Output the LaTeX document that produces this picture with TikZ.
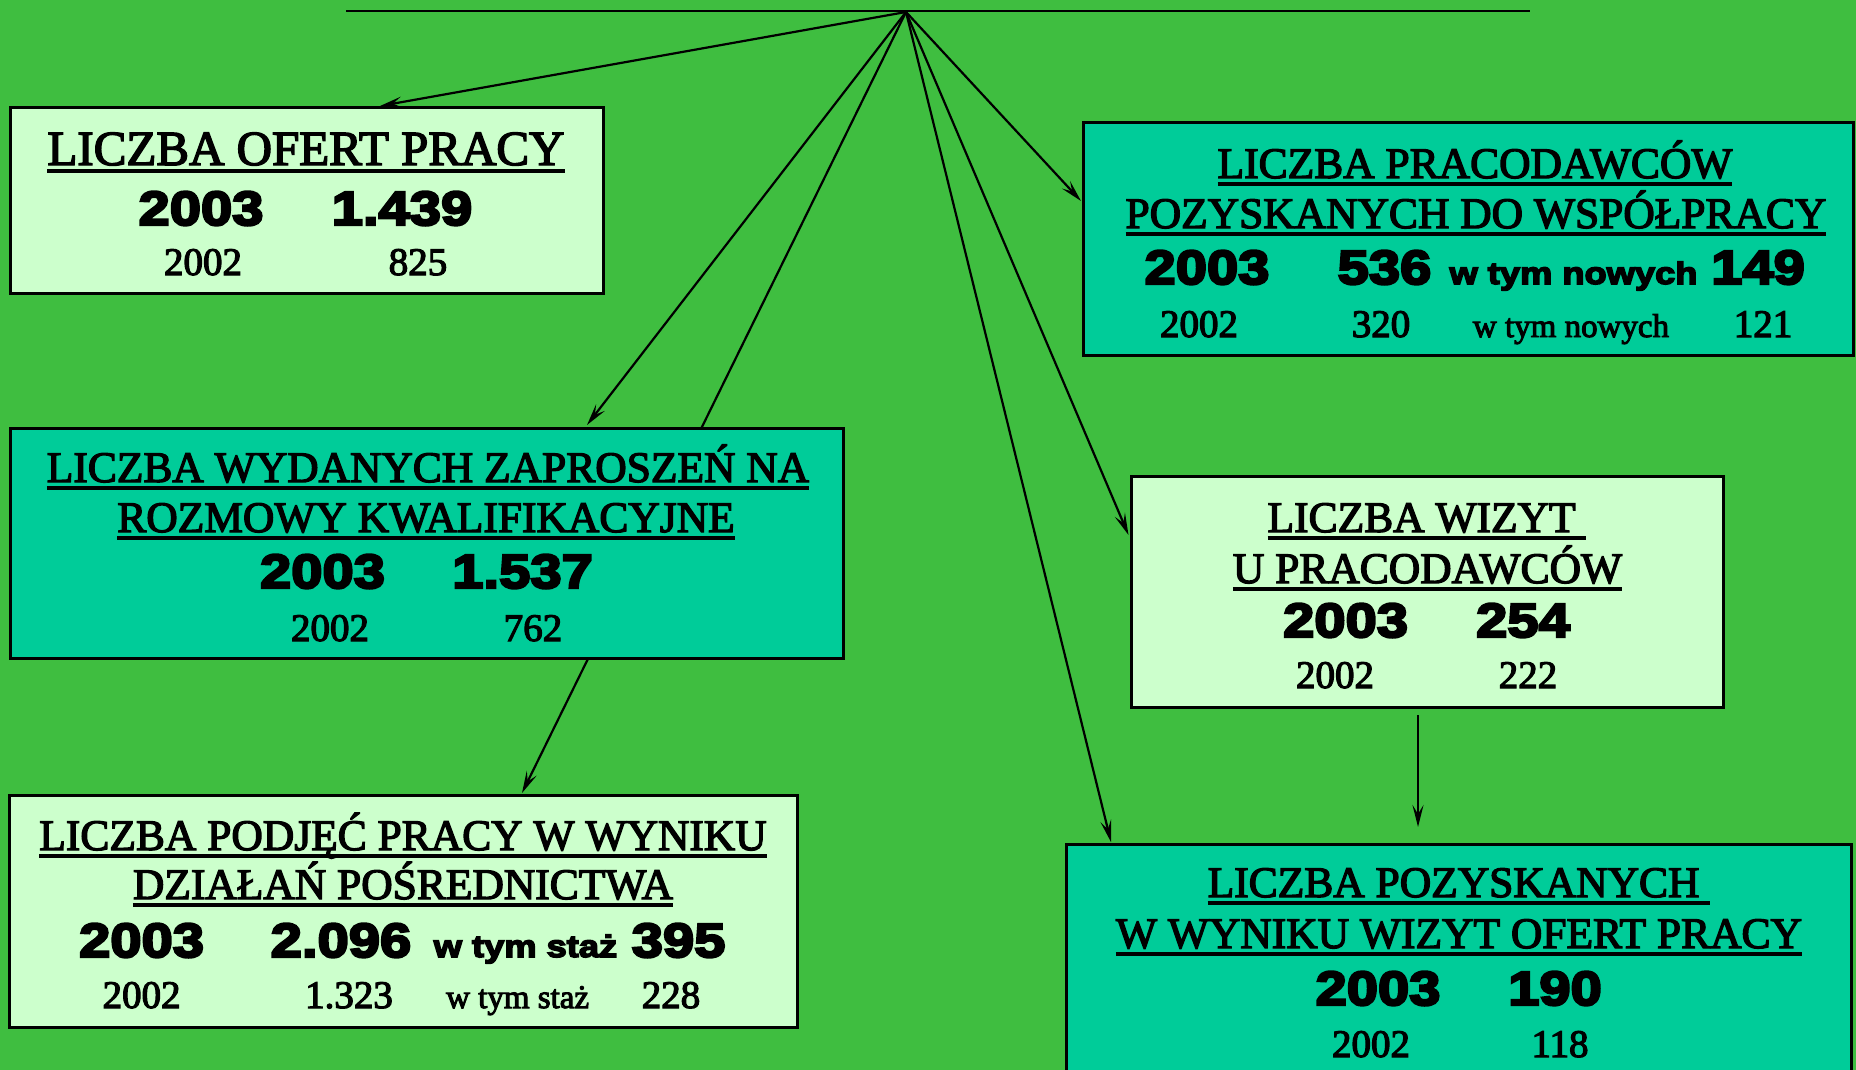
\documentclass[tikz,border=0pt]{standalone}
\usepackage{fontspec}
\setmainfont{Liberation Serif}
\font\ttlA="Liberation Serif:embolden=3" at 43.5pt
\font\ttlB="Liberation Serif:embolden=3" at 49pt
\font\smA="Liberation Serif:embolden=3" at 39pt
\font\smB="Liberation Serif:embolden=3" at 33pt
\font\bigA="Liberation Sans/B:extend=1.17;embolden=5" at 48pt
\font\midA="Liberation Sans/B:extend=1.17;embolden=5" at 31pt
\usetikzlibrary{arrows.meta}
\pgfdeclarelayer{backlayer}
\pgfsetlayers{backlayer,main}
\definecolor{bggreen}{RGB}{63,190,64}
\definecolor{lightg}{RGB}{204,255,204}
\definecolor{tealg}{RGB}{0,204,153}
\newcommand\myul[1]{\setbox0\hbox{#1}\rlap{\rule[-7.8pt]{\wd0}{3.4pt}}\box0}
\begin{document}
\begin{tikzpicture}[x=1pt,y=-1pt,
  lbox/.style={draw=black, line width=3pt, fill=lightg, anchor=north west, inner sep=0pt, outer sep=0pt},
  tbox/.style={lbox, fill=tealg},
  tx/.style={anchor=base, inner sep=0pt, outer sep=0pt, text=black},
  ttl/.style={tx, font=\ttlA},
  big/.style={tx, font=\bigA},
  midb/.style={tx, font=\midA},
  sm/.style={tx, font=\smA},
  smw/.style={tx, font=\smB},
  arr/.style={line width=2.2pt, -{Stealth[length=22pt,width=11pt,inset=9pt]}}
]
\clip (0,0) rectangle (1856,1070);
\useasboundingbox (0,0) rectangle (1856,1070);

% boxes
\node[lbox, minimum width=593pt, minimum height=185pt] (b1) at (10,108) {};
\node[tbox, minimum width=770pt, minimum height=232pt] (b2) at (1083,123) {};
\node[tbox, minimum width=833pt, minimum height=230pt] (b3) at (10,428) {};
\node[lbox, minimum width=788pt, minimum height=232pt] (b4) at (9,795) {};
\node[lbox, minimum width=592pt, minimum height=231pt] (b5) at (1131,476) {};
\node[tbox, minimum width=785pt, minimum height=260pt] (b6) at (1066,844) {};

% top line and hub
\coordinate (tl) at (346,11);
\coordinate (tr) at (1530,11);
\coordinate (hub) at (906,12);
\draw[line width=2.6pt] (tl) -- (tr);

% background + hidden arrow
\begin{pgfonlayer}{backlayer}
\fill[bggreen] (0,0) rectangle (1856,1070);
\draw[arr] (hub) -- ([xshift=513pt,yshift=2pt]b4.north west);
\end{pgfonlayer}

% arrows
\draw[arr] (hub) -- ([xshift=370pt,yshift=2pt]b1.north west);
\draw[arr] (hub) -- ([xshift=577pt,yshift=3pt]b3.north west);
\draw[arr] (hub) -- ([xshift=-2pt,yshift=-78pt]b2.north west);
\draw[arr] (hub) -- ([xshift=-2.5pt,yshift=-59pt]b5.north west);
\draw[arr] (hub) -- ([xshift=45pt,yshift=2pt]b6.north west);
\draw[arr] ([xshift=287pt,yshift=-8pt]b5.south west) -- ([xshift=352pt,yshift=17pt]b6.north west);

% box 1
\node[ttl, font=\ttlB] (t1a) at (306,165) {\myul{LICZBA OFERT PRACY}};
\node[big] (t1b) at (201,225) {2003};
\node[big] (t1c) at (402,225) {1.439};
\node[sm] (t1d) at (203,275) {2002};
\node[sm] (t1e) at (418,275) {825};

% box 2
\node[ttl] (t2a) at (1475,178) {\myul{LICZBA PRACODAWCÓW}};
\node[ttl] (t2b) at (1476,228) {\myul{POZYSKANYCH DO WSPÓŁPRACY}};
\node[big] (t2c) at (1207,284) {2003};
\node[big] (t2d) at (1384.5,284) {536};
\node[midb] (t2e) at (1573.5,284) {w tym nowych};
\node[big] (t2f) at (1758,284) {149};
\node[sm] (t2g) at (1199,337) {2002};
\node[sm] (t2h) at (1381,337) {320};
\node[smw] (t2i) at (1571,337) {w tym nowych};
\node[sm] (t2j) at (1763,337) {121};

% box 3
\node[ttl] (t3a) at (428,482) {\myul{LICZBA WYDANYCH ZAPROSZEŃ NA}};
\node[ttl] (t3b) at (426,532) {\myul{ROZMOWY KWALIFIKACYJNE}};
\node[big] (t3c) at (322.5,588) {2003};
\node[big] (t3d) at (522.6,588) {1.537};
\node[sm] (t3e) at (330,641) {2002};
\node[sm] (t3f) at (533,641) {762};

% box 4
\node[ttl] (t4a) at (403,850) {\myul{LICZBA PODJĘĆ PRACY W WYNIKU}};
\node[ttl] (t4b) at (403,899) {\myul{DZIAŁAŃ POŚREDNICTWA}};
\node[big] (t4c) at (141.6,957) {2003};
\node[big] (t4d) at (341,957) {2.096};
\node[midb] (t4e) at (525.5,957) {w tym staż};
\node[big] (t4f) at (678.6,957) {395};
\node[sm] (t4g) at (141.6,1008) {2002};
\node[sm] (t4h) at (349,1008) {1.323};
\node[smw] (t4i) at (517.6,1008) {w tym staż};
\node[sm] (t4j) at (671,1008) {228};

% box 5
\node[ttl] (t5a) at (1427,532) {\myul{LICZBA WIZYT\ }};
\node[ttl] (t5b) at (1427.5,583) {\myul{U PRACODAWCÓW}};
\node[big] (t5c) at (1345.6,637) {2003};
\node[big] (t5d) at (1523,637) {254};
\node[sm] (t5e) at (1335,688) {2002};
\node[sm] (t5f) at (1528,688) {222};

% box 6
\node[ttl] (t6a) at (1459,897) {\myul{LICZBA POZYSKANYCH\ }};
\node[ttl] (t6b) at (1459,948) {\myul{W WYNIKU WIZYT OFERT PRACY}};
\node[big] (t6c) at (1378,1005) {2003};
\node[big] (t6d) at (1555,1005) {190};
\node[sm] (t6e) at (1371,1057) {2002};
\node[sm] (t6f) at (1560,1057) {118};
\end{tikzpicture}
\end{document}
